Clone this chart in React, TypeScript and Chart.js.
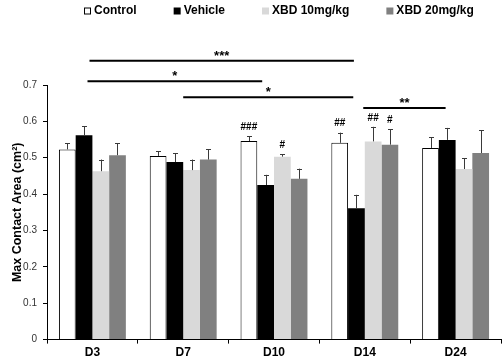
import React, { useEffect, useRef } from "react";
import { Chart, registerables } from "chart.js";

Chart.register(...registerables);

const categories = ["D3", "D7", "D10", "D14", "D24"];
const seriesNames = ["Control", "Vehicle", "XBD 10mg/kg", "XBD 20mg/kg"];
const controlValues = [0.523, 0.505, 0.546, 0.541, 0.527];
const vehicleValues = [0.562, 0.488, 0.425, 0.361, 0.549];
const xbd10Values = [0.463, 0.466, 0.503, 0.545, 0.469];
const xbd20Values = [0.507, 0.495, 0.442, 0.536, 0.513];
const controlErr = [0.017, 0.013, 0.013, 0.028, 0.029];
const vehicleErr = [0.024, 0.024, 0.028, 0.037, 0.033];
const xbd10Err = [0.032, 0.029, 0.007, 0.04, 0.029];
const xbd20Err = [0.033, 0.029, 0.028, 0.042, 0.062];
const controlHash = ["", "", "###", "##", ""];
const vehicleHash = ["", "", "", "", ""];
const xbd10Hash = ["", "", "#", "##", ""];
const xbd20Hash = ["", "", "", "#", ""];
const yTicks = [0, 0.1, 0.2, 0.3, 0.4, 0.5, 0.6, 0.7];
// significance brackets: from/to in category units, value on y axis
const sigFrom = [-0.032, -0.054, 1.0, 2.983];
const sigTo = [2.88, 1.87, 2.873, 3.89];
const sigValue = [0.767, 0.71, 0.666, 0.637];
const sigLabel = ["***", "*", "*", "**"];

const FONT = "'Liberation Sans', Arial, sans-serif";
const fills = ["#ffffff", "#000000", "#d9d9d9", "#808080"];

export default function App() {
  const ref = useRef<HTMLCanvasElement | null>(null);
  useEffect(() => {
    if (!ref.current) return;
    const values = [controlValues, vehicleValues, xbd10Values, xbd20Values];
    const errs = [controlErr, vehicleErr, xbd10Err, xbd20Err];
    const hashes = [controlHash, vehicleHash, xbd10Hash, xbd20Hash];

    const overlay = {
      id: "overlay",
      afterDatasetsDraw(chart: any) {
        const ctx = chart.ctx;
        const x = chart.scales.x;
        const y = chart.scales.y;
        ctx.save();
        // error bars and hash labels
        values.forEach((vals, di) => {
          const meta = chart.getDatasetMeta(di);
          meta.data.forEach((bar: any, i: number) => {
            const top = y.getPixelForValue(vals[i] + errs[di][i]);
            const base = y.getPixelForValue(vals[i]);
            ctx.strokeStyle = "#3a3a3a";
            ctx.lineWidth = 1;
            ctx.beginPath();
            ctx.moveTo(Math.round(bar.x) + 0.5, base);
            ctx.lineTo(Math.round(bar.x) + 0.5, top);
            ctx.moveTo(Math.round(bar.x) - 2, Math.round(top) + 0.5);
            ctx.lineTo(Math.round(bar.x) + 3, Math.round(top) + 0.5);
            ctx.stroke();
            const h = hashes[di][i];
            if (h) {
              ctx.fillStyle = "#000";
              ctx.font = `bold 10px ${FONT}`;
              ctx.textAlign = "center";
              ctx.textBaseline = "middle";
              ctx.fillText(h, bar.x, top - 9);
            }
          });
        });
        // significance lines
        const cw = x.getPixelForValue(1) - x.getPixelForValue(0);
        const c0 = x.getPixelForValue(0);
        sigValue.forEach((v, k) => {
          const x1 = c0 + sigFrom[k] * cw;
          const x2 = c0 + sigTo[k] * cw;
          const py = y.getPixelForValue(v);
          ctx.strokeStyle = "#000";
          ctx.lineWidth = 2;
          ctx.beginPath();
          ctx.moveTo(x1, py);
          ctx.lineTo(x2, py);
          ctx.stroke();
          ctx.fillStyle = "#000";
          ctx.font = `bold 13px ${FONT}`;
          ctx.textAlign = "center";
          ctx.textBaseline = "alphabetic";
          ctx.fillText(sigLabel[k], (x1 + x2) / 2, py - 1);
        });
        // legend
        ctx.font = `bold 12px ${FONT}`;
        ctx.textBaseline = "middle";
        ctx.textAlign = "left";
        let lx = 84;
        const ly = 11;
        seriesNames.forEach((name, k) => {
          ctx.fillStyle = fills[k];
          ctx.fillRect(lx, ly - 3.5, 7, 7);
          if (k === 0) {
            ctx.strokeStyle = "#000";
            ctx.lineWidth = 1;
            ctx.strokeRect(lx + 0.5, ly - 3, 6, 6);
          }
          ctx.fillStyle = "#000";
          ctx.fillText(name, lx + 10, ly);
          lx += 10 + ctx.measureText(name).width + 37;
        });
        ctx.restore();
      },
    };

    const chart = new Chart(ref.current, {
      type: "bar",
      data: {
        labels: categories,
        datasets: seriesNames.map((name, k) => ({
          label: name,
          data: values[k],
          backgroundColor: fills[k],
          borderColor: "#000",
          borderWidth: k === 0 ? 1 : 0,
          categoryPercentage: 0.737,
          barPercentage: 1,
        })),
      },
      options: {
        animation: false,
        responsive: false,
        layout: { padding: { top: 85, right: 1, left: 0, bottom: 0 } },
        plugins: { legend: { display: false }, tooltip: { enabled: false } },
        scales: {
          x: {
            offset: true,
            grid: {
              offset: true,
              drawOnChartArea: false,
              drawTicks: true,
              tickLength: 4,
              color: "#000",
            },
            border: { color: "#000", width: 1 },
            ticks: {
              color: "#000",
              font: { family: FONT, size: 12, weight: "bold" },
              padding: 2,
            },
          },
          y: {
            min: 0,
            max: 0.7,
            afterBuildTicks(scale: any) {
              scale.ticks = yTicks.map((v) => ({ value: v }));
            },
            afterFit(scale: any) {
              scale.width = 47;
            },
            grid: {
              drawOnChartArea: false,
              drawTicks: true,
              tickLength: 4,
              color: "#000",
            },
            border: { color: "#000", width: 1 },
            ticks: {
              color: "#333",
              font: { family: FONT, size: 10 },
              padding: 6,
              callback: (v: any) => String(Number(v)),
            },
            title: {
              display: true,
              text: "Max Contact Area (cm²)",
              color: "#000",
              font: { family: FONT, size: 12.5, weight: "bold" },
              padding: { top: 10, bottom: 0 },
            },
          },
        },
      },
      plugins: [overlay],
    });
    return () => chart.destroy();
  }, []);
  return (
    <div style={{ position: "absolute", left: 0, top: 0, width: 502, height: 362, background: "#fff" }}>
      <canvas ref={ref} width={502} height={362} />
    </div>
  );
}
